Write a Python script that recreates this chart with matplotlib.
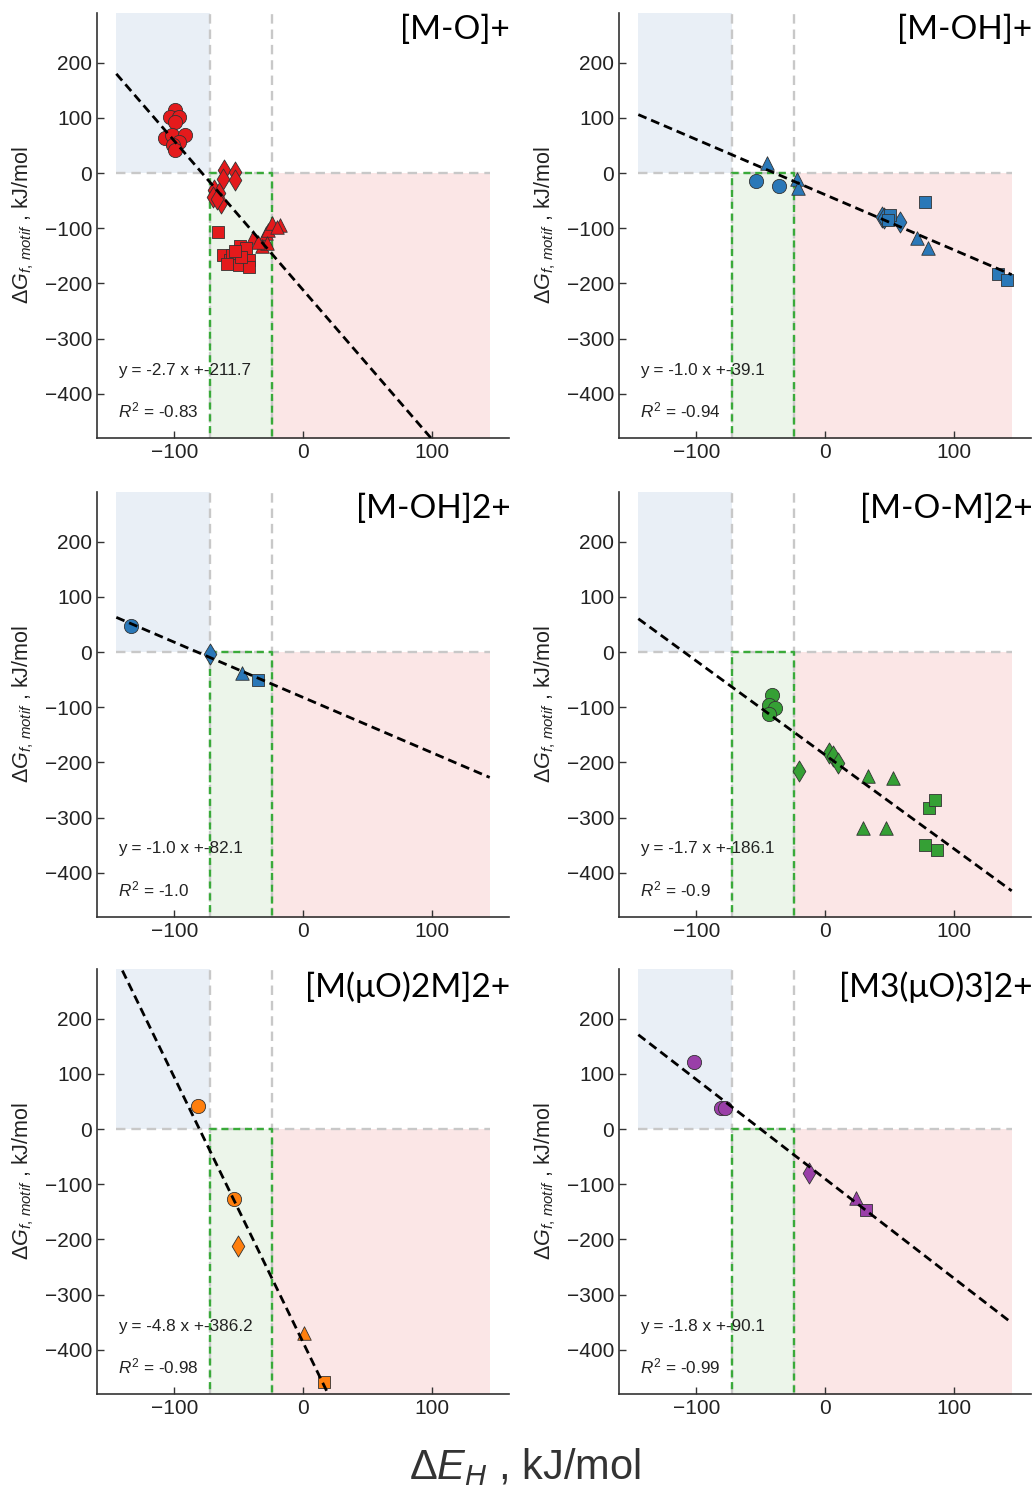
import numpy as np
import matplotlib
matplotlib.use('Agg')
import matplotlib.pyplot as plt

plt.rcParams['font.family'] = ['Liberation Sans', 'DejaVu Sans']
plt.rcParams['mathtext.fontset'] = 'custom'
plt.rcParams['mathtext.rm'] = 'Liberation Sans'
plt.rcParams['mathtext.it'] = 'Liberation Sans:italic'
plt.rcParams['mathtext.bf'] = 'Liberation Sans:bold'

# ---- data ----
titles = ['[M-O]+', '[M-OH]+', '[M-OH]2+', '[M-O-M]2+', '[M(\u03bcO)2M]2+', '[M3(\u03bcO)3]2+']
colors = ['#e41a1c', '#2a78b8', '#2a78b8', '#35a035', '#ff7f0e', '#9a3fa8']
slopes = [-2.7, -1.0, -1.0, -1.7, -4.8, -1.8]
intercepts = [-211.7, -39.1, -82.1, -186.1, -386.2, -90.1]
r2_labels = ['-0.83', '-0.94', '-1.0', '-0.9', '-0.98', '-0.99']

# panel 1: [M-O]+
p1_circ_x = [-99.7, -103.6, -96.6, -99.7, -107.5, -102, -92, -96, -101, -99.7]
p1_circ_y = [114.5, 102, 102, 93, 63, 69, 69, 57, 51, 42]
p1_diam_x = [-61, -53, -62, -53, -69, -65, -70, -63.6, -66.5]
p1_diam_y = [5.5, 2, -10, -12, -31, -37, -43, -55, -47]
p1_tri_x = [-39, -31, -29, -27, -24, -18, -20, -32, -28, -35]
p1_tri_y = [-115, -121, -109, -103, -91, -94, -97, -133, -127, -125]
p1_sq_x = [-66, -62, -57, -55, -49, -44, -59, -50, -42, -42, -48, -53]
p1_sq_y = [-106, -148, -158, -148, -133, -136, -164, -167, -158, -171, -152, -142]

# panel 2: [M-OH]+
p2_circ_x = [-53.9, -35.5]
p2_circ_y = [-14, -24]
p2_diam_x = [44, 46, 58]
p2_diam_y = [-79, -82, -88]
p2_tri_x = [-44.8, -22, -20.7, 71.8, 80.3]
p2_tri_y = [19, -11, -27, -117, -135]
p2_sq_x = [50.5, 49, 77.7, 134.7, 141.7]
p2_sq_y = [-76, -85, -53, -182, -194]

# panel 3: [M-OH]2+
p3_circ_x = [-133.8]
p3_circ_y = [47]
p3_diam_x = [-72.5]
p3_diam_y = [-4]
p3_tri_x = [-47.7]
p3_tri_y = [-37.6]
p3_sq_x = [-34.7]
p3_sq_y = [-51.5]

# panel 4: [M-O-M]2+
p4_circ_x = [-41.5, -43.5, -38.9, -43.5]
p4_circ_y = [-78, -95, -101, -113]
p4_diam_x = [3.4, 6.5, 10.4, -20]
p4_diam_y = [-183, -189, -201, -216]
p4_tri_x = [33.7, 52.6, 29.8, 47.4]
p4_tri_y = [-225, -229, -319, -319]
p4_sq_x = [81, 85.5, 77.7, 87.3]
p4_sq_y = [-283, -268, -350, -358]

# panel 5: [M(uO)2M]2+
p5_circ_x = [-81.6, -53.7]
p5_circ_y = [41, -127]
p5_diam_x = [-50.8]
p5_diam_y = [-212]
p5_tri_x = [0.5]
p5_tri_y = [-370]
p5_sq_x = [16.2]
p5_sq_y = [-458]

# panel 6: [M3(uO)3]2+
p6_circ_x = [-101.8, -80.5, -78]
p6_circ_y = [122, 38, 38]
p6_diam_x = [-12.4]
p6_diam_y = [-80]
p6_tri_x = [23.8]
p6_tri_y = [-125]
p6_sq_x = [31.6]
p6_sq_y = [-147]

panels = [
    (p1_circ_x, p1_circ_y, p1_diam_x, p1_diam_y, p1_tri_x, p1_tri_y, p1_sq_x, p1_sq_y),
    (p2_circ_x, p2_circ_y, p2_diam_x, p2_diam_y, p2_tri_x, p2_tri_y, p2_sq_x, p2_sq_y),
    (p3_circ_x, p3_circ_y, p3_diam_x, p3_diam_y, p3_tri_x, p3_tri_y, p3_sq_x, p3_sq_y),
    (p4_circ_x, p4_circ_y, p4_diam_x, p4_diam_y, p4_tri_x, p4_tri_y, p4_sq_x, p4_sq_y),
    (p5_circ_x, p5_circ_y, p5_diam_x, p5_diam_y, p5_tri_x, p5_tri_y, p5_sq_x, p5_sq_y),
    (p6_circ_x, p6_circ_y, p6_diam_x, p6_diam_y, p6_tri_x, p6_tri_y, p6_sq_x, p6_sq_y),
]

# region boundaries
x_lo, x_a, x_b, x_hi = -145, -72, -24, 145
xlim = (-160, 160)
ylim = (-480, 290)

W, H = 1034, 1489
fig = plt.figure(figsize=(W / 100, H / 100), dpi=100)

lefts = [97, 619]
tops = [13, 492, 969]
ax_w, ax_h = 412, 425

for i, (title, col) in enumerate(zip(titles, colors)):
    r, c = divmod(i, 2)
    ax = fig.add_axes([lefts[c] / W, 1 - (tops[r] + ax_h) / H, ax_w / W, ax_h / H])

    # shaded regions
    ax.fill_between([x_lo, x_a], 0, 400, color='#e9eff6', lw=0, zorder=0)
    ax.fill_between([x_a, x_b], -600, 0, color='#ecf5ea', lw=0, zorder=0)
    ax.fill_between([x_b, x_hi], -600, 0, color='#fbe6e6', lw=0, zorder=0)
    # gray guide lines
    ax.axvline(x_a, color='#c8c8c8', ls=(0, (4, 2.5)), lw=1.7, zorder=1)
    ax.axvline(x_b, color='#c8c8c8', ls=(0, (4, 2.5)), lw=1.7, zorder=1)
    ax.plot([x_lo, x_hi], [0, 0], color='#c8c8c8', ls=(0, (4, 2.5)), lw=1.7, zorder=1)
    # green box
    ax.plot([x_a, x_a, x_b, x_b], [-600, 0, 0, -600], color='#3aaa3a',
            ls=(0, (3, 2)), lw=1.7, zorder=2)

    cx, cy, dx, dy, tx, ty, sx, sy = panels[i]
    kw = dict(color=col, edgecolor='#333333', linewidths=0.6, zorder=3)
    ax.scatter(cx, cy, marker='o', s=105, **kw)
    ax.scatter(dx, dy, marker='d', s=115, **kw)
    ax.scatter(tx, ty, marker='^', s=95, **kw)
    ax.scatter(sx, sy, marker='s', s=85, **kw)

    # fit line
    xs = np.array([x_lo, x_hi])
    ax.plot(xs, slopes[i] * xs + intercepts[i], color='black', ls=(0, (3.2, 1.8)),
            lw=2, zorder=4)

    ax.text(0.05, 0.16, f'y = {slopes[i]} x +{intercepts[i]}', transform=ax.transAxes,
            fontsize=12.3, va='center', ha='left', color='#222222', zorder=5)
    ax.text(0.05, 0.064, r'$R^2$ = ' + r2_labels[i], transform=ax.transAxes,
            fontsize=12.3, va='center', ha='left', color='#222222', zorder=5)
    ax.text(1.003, 0.995, title, transform=ax.transAxes, ha='right', va='top',
            fontsize=24, family=['Lato', 'DejaVu Sans'], color='black', zorder=5)

    ax.set_xlim(*xlim)
    ax.set_ylim(*ylim)
    ax.set_xticks([-100, 0, 100])
    ax.set_yticks([200, 100, 0, -100, -200, -300, -400])
    ax.tick_params(direction='in', length=5, width=1, color='#333333',
                   labelsize=15, labelcolor='#222222')
    for s in ['top', 'right']:
        ax.spines[s].set_visible(False)
    for s in ['left', 'bottom']:
        ax.spines[s].set_color('#333333')
        ax.spines[s].set_linewidth(1.2)
    ax.set_ylabel(r'$\Delta G_{f,\,motif}$ , kJ/mol', fontsize=15.5, color='#222222',
                  labelpad=6)

fig.text(0.508, 0.0148, r'$\Delta E_H$ , kJ/mol', fontsize=30, ha='center',
         va='center', color='#333333')

fig.savefig('out.png', dpi=100)
